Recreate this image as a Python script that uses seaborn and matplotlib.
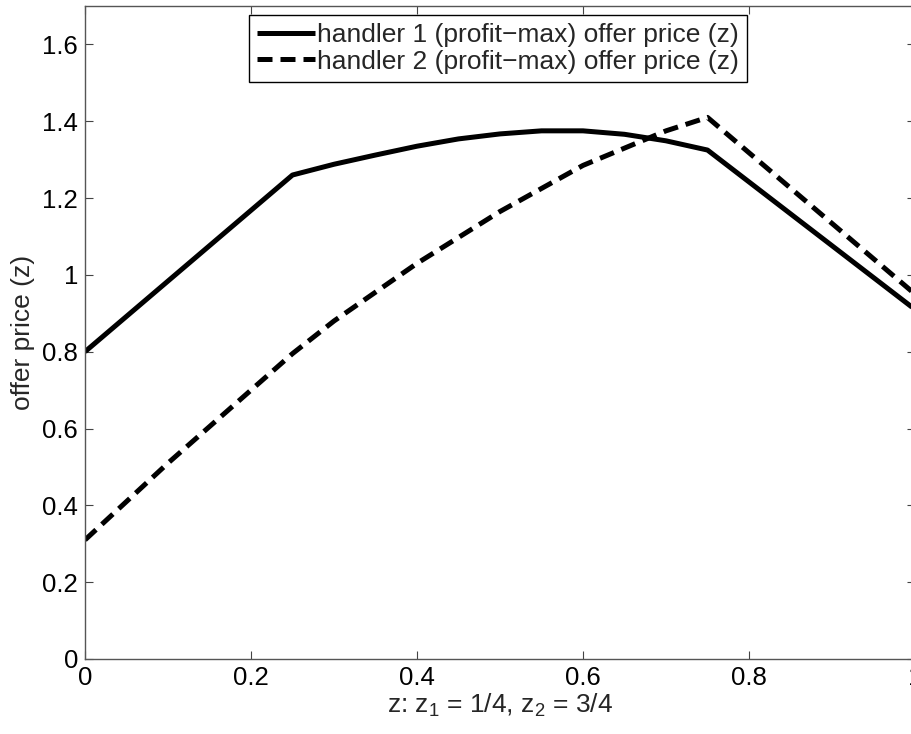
import numpy as np
import pandas as pd
import matplotlib
matplotlib.use("Agg")
import matplotlib.pyplot as plt
import seaborn as sns

# data
z_h1 = [0.0, 0.25, 0.30, 0.35, 0.40, 0.45, 0.50, 0.55, 0.60, 0.65, 0.70, 0.75, 1.0]
p_h1 = [0.80, 1.26, 1.288, 1.312, 1.335, 1.354, 1.367, 1.375, 1.375, 1.366, 1.349, 1.325, 0.91]
z_h2 = [0.0, 0.10, 0.20, 0.25, 0.30, 0.40, 0.50, 0.60, 0.70, 0.75, 1.0]
p_h2 = [0.31, 0.51, 0.70, 0.795, 0.88, 1.03, 1.165, 1.285, 1.375, 1.41, 0.95]
label_h1 = "handler 1 (profit\u2212max) offer price (z)"
label_h2 = "handler 2 (profit\u2212max) offer price (z)"
xticks = [0, 0.2, 0.4, 0.6, 0.8, 1]
xticklabels = ["0", "0.2", "0.4", "0.6", "0.8", "1"]
yticks = [0, 0.2, 0.4, 0.6, 0.8, 1.0, 1.2, 1.4, 1.6]
yticklabels = ["0", "0.2", "0.4", "0.6", "0.8", "1", "1.2", "1.4", "1.6"]

df = pd.concat([
    pd.DataFrame({"z": z_h1, "price": p_h1, "handler": label_h1}),
    pd.DataFrame({"z": z_h2, "price": p_h2, "handler": label_h2}),
], ignore_index=True)

sns.set_theme(style="ticks")
plt.rcParams["font.family"] = ["Liberation Sans", "DejaVu Sans"]
plt.rcParams["mathtext.default"] = "regular"

fig = plt.figure(figsize=(9.12, 7.34), dpi=100)
ax = fig.add_axes([85 / 912, 75 / 734, 830 / 912, 653 / 734])

sns.lineplot(data=df, x="z", y="price", style="handler",
             dashes={label_h1: "", label_h2: (3, 1.6)},
             color="black", linewidth=3.6, ax=ax, sort=False,
             legend=True)
for ln in ax.lines:
    ln.set_dash_capstyle("butt")
    ln.set_solid_capstyle("butt")

ax.set_xlim(0, 1)
ax.set_ylim(0, 1.7)
ax.set_xticks(xticks)
ax.set_xticklabels(xticklabels)
ax.set_yticks(yticks)
ax.set_yticklabels(yticklabels)
ax.tick_params(direction="in", length=6, width=0.8, color="#444444",
               top=True, right=True, labelsize=18.5, pad=5, labelcolor="black")
for sp in ax.spines.values():
    sp.set_visible(True)
    sp.set_color("#555555")
    sp.set_linewidth(1.0)

ax.set_xlabel("z: z$_1$ = 1/4, z$_2$ = 3/4", fontsize=19, labelpad=1)
ax.set_ylabel("offer price (z)", fontsize=19, labelpad=5)

leg = ax.legend(loc="upper center", bbox_to_anchor=(0.4976, 0.986),
                borderaxespad=0, fontsize=19, handlelength=2.2,
                handletextpad=0.1, labelspacing=0.1, borderpad=0.3,
                fancybox=False, frameon=True)
leg.get_frame().set_edgecolor("black")
leg.get_frame().set_linewidth(1.0)
leg.get_frame().set_alpha(1)
for h in leg.get_lines():
    h.set_linewidth(3.6)
    h.set_dash_capstyle("butt")

fig.savefig("out.png", dpi=100)
